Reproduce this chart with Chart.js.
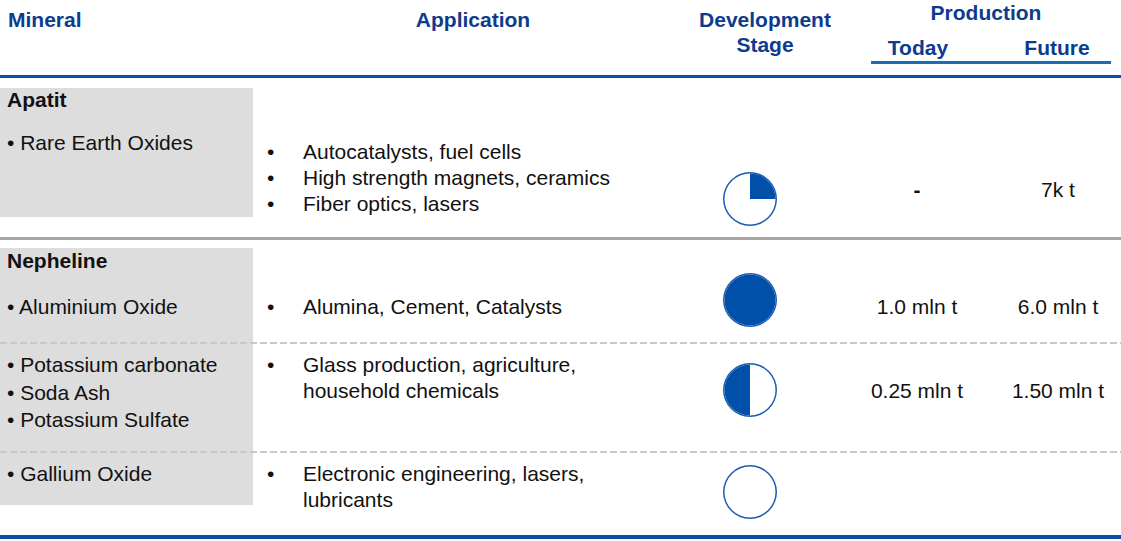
<!DOCTYPE html>
<html>
<head>
<meta charset="utf-8">
<script src="https://cdn.jsdelivr.net/npm/chart.js@4/dist/chart.umd.min.js"></script>
<style>
  html,body{margin:0;padding:0;background:#fff;}
  #wrap{position:relative;width:1121px;height:541px;overflow:hidden;font-family:"Liberation Sans",Arial,sans-serif;font-size:21px;color:#111;}
  .abs{position:absolute;white-space:nowrap;line-height:26px;}
  .hd{font-weight:bold;color:#0d3b8e;}
  .box{position:absolute;left:0;width:253px;background:#dddddd;}
  .rule{position:absolute;left:0;width:1121px;}
  .dash{height:2px;background:linear-gradient(to right,#c8c8c8 0 7px,transparent 7px 10px);background-size:10px 2px;}
  .grp{font-weight:bold;}
  .prod{line-height:27.5px;}
  .app{position:absolute;left:267px;width:345px;line-height:26px;}
  .app div{position:relative;padding-left:36px;white-space:normal;}
  .app div:before{content:"•";position:absolute;left:0;}
  .val{width:140px;text-align:center;}
  .nil{font-weight:bold;}
  canvas.ball{position:absolute;}
</style>
</head>
<body>
<div id="wrap"></div>
<script>
// table content
const groups = ['Apatit', 'Nepheline'];
const products = [
  ['Rare Earth Oxides'],
  ['Aluminium Oxide'],
  ['Potassium carbonate', 'Soda Ash', 'Potassium Sulfate'],
  ['Gallium Oxide']
];
const applications = [
  ['Autocatalysts, fuel cells', 'High strength magnets, ceramics', 'Fiber optics, lasers'],
  ['Alumina, Cement, Catalysts'],
  ['Glass production, agriculture, household chemicals'],
  ['Electronic engineering, lasers, lubricants']
];
const stage = [25, 100, 50, 0];            // development stage, % of ball filled
const prodToday = ['-', '1.0 mln t', '0.25 mln t', ''];
const prodFuture = ['7k t', '6.0 mln t', '1.50 mln t', ''];

const BLUE = '#0050aa', LINE_BLUE = '#0a4ea8';

// layout (centre y of each element per row)
const groupY = [100, 261];
const groupBox = [[88, 217], [248, 505]];
const prodY = [143, 307, 365, 474];
const appY = [152, 307, 365, 474];
const ballY = [199, 300, 390, 492];
const valY = [190, 307, 391, 492];
const ballRotation = [0, 0, 180, 0];

const wrap = document.getElementById('wrap');
function el(cls, css, html) {
  const d = document.createElement('div');
  d.className = cls; d.style.cssText = css; if (html != null) d.innerHTML = html;
  wrap.appendChild(d); return d;
}

// grey boxes
groupBox.forEach(([a, b]) => el('box', `top:${a}px;height:${b - a}px;`));

// header
el('abs hd', 'left:8px;top:7px;', 'Mineral');
el('abs hd', 'left:403px;top:7px;width:140px;text-align:center;', 'Application');
el('abs hd', 'left:665px;top:7px;width:200px;text-align:center;line-height:25px;', 'Development<br>Stage');
el('abs hd', 'left:886px;top:0px;width:200px;text-align:center;', 'Production');
el('abs hd', 'left:848px;top:35px;width:140px;text-align:center;', 'Today');
el('abs hd', 'left:987px;top:35px;width:140px;text-align:center;', 'Future');

// rules
el('rule', `left:871px;width:240px;top:61px;height:3px;background:#1a6db5;`);
el('rule', `top:75px;height:3px;background:${LINE_BLUE};`);
el('rule', 'top:237px;height:3px;background:#a6a6a6;');
el('rule dash', 'top:342px;');
el('rule dash', 'top:451px;');
el('rule', `top:535px;height:4px;background:${LINE_BLUE};`);

// group labels
groups.forEach((g, i) => el('abs grp', `left:7px;top:${groupY[i] - 13}px;`, g));

// rows
products.forEach((list, i) => {
  el('abs prod', `left:7px;top:${prodY[i] - 14}px;`, list.map(p => '• ' + p).join('<br>'));
  const a = el('app', `top:${appY[i] - 13}px;`);
  a.innerHTML = applications[i].map(t => `<div>${t}</div>`).join('');
  el('abs val' + (prodToday[i] === '-' ? ' nil' : ''), `left:847px;top:${valY[i] - 13}px;`, prodToday[i]);
  el('abs val', `left:988px;top:${valY[i] - 13}px;`, prodFuture[i]);

  // harvey ball
  const c = document.createElement('canvas');
  c.className = 'ball'; c.width = 54; c.height = 54;
  c.style.left = (750 - 27) + 'px'; c.style.top = (ballY[i] - 27) + 'px';
  wrap.appendChild(c);
  new Chart(c.getContext('2d'), {
    type: 'pie',
    data: {
      labels: ['Done', 'Open'],
      datasets: [
        {data: [100], backgroundColor: ['#1a5cb0'], borderWidth: 0, weight: 1},
        {data: [stage[i], 100 - stage[i]], backgroundColor: [BLUE, '#ffffff'], borderWidth: 0, weight: 17}
      ]
    },
    options: {
      responsive: false, animation: false, rotation: ballRotation[i],
      layout: {padding: 0},
      plugins: {legend: {display: false}, tooltip: {enabled: false}}
    }
  });
});
</script>
</body>
</html>
